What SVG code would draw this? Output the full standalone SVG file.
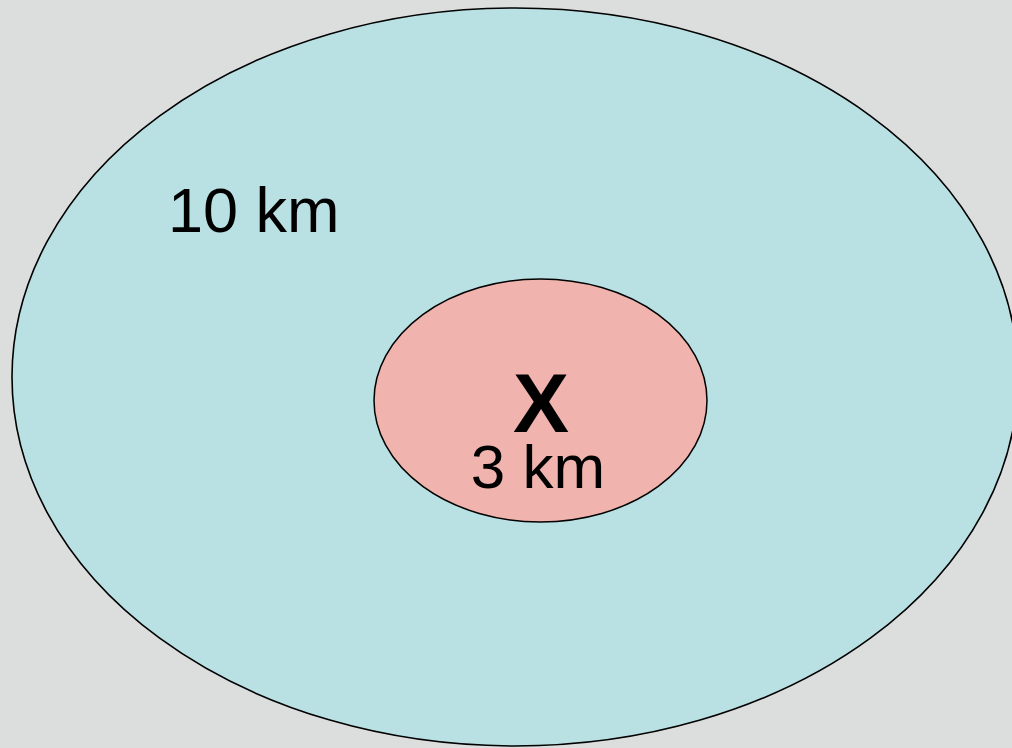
<svg xmlns="http://www.w3.org/2000/svg" width="1012" height="748" viewBox="0 0 1012 748">
<style>
.lbl{font-family:"Liberation Sans",Arial,sans-serif;fill:#000}
</style>
<rect width="1012" height="748" fill="#dcdedd"/>
<g id="outer">
<ellipse cx="515" cy="377" rx="503" ry="369" fill="#b9e0e3" stroke="#000" stroke-width="1.6"/>
<text class="lbl" x="168" y="232" font-size="63">10 km</text>
</g>
<g id="inner">
<ellipse cx="540.5" cy="400.5" rx="166.5" ry="121.5" fill="#f0b3ae" stroke="#000" stroke-width="1.5"/>
<text class="lbl" x="541" y="432" font-size="84" font-weight="bold" text-anchor="middle">X</text>
<text class="lbl" x="538" y="488" font-size="62" text-anchor="middle">3 km</text>
</g>
<g id="connectors"/>
</svg>
